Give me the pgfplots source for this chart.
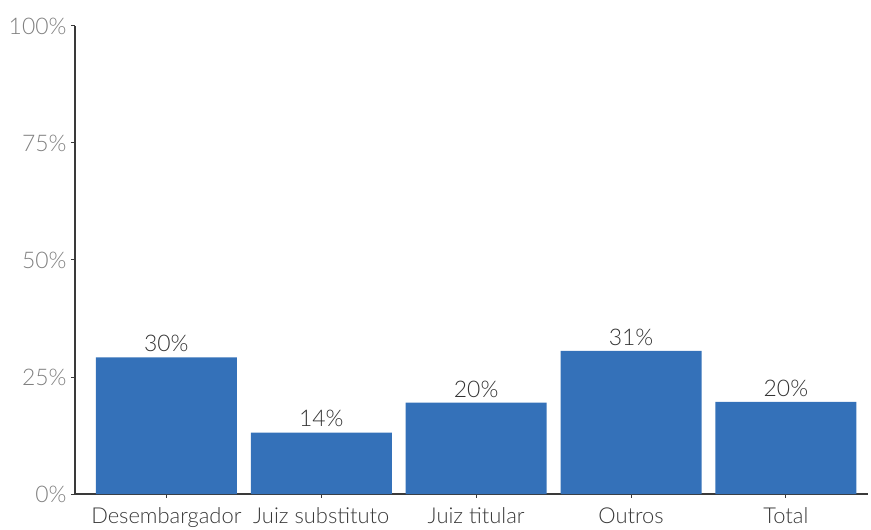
\documentclass[border=0pt]{standalone}
\usepackage{fontspec}
\setmainfont{Lato}[UprightFont=* Light, BoldFont=* Regular]
\usepackage{pgfplots}
\pgfplotsset{compat=1.18}
\definecolor{barblue}{HTML}{3471B9}
\definecolor{axisgray}{HTML}{3A3A3A}
\begin{document}
\begin{tikzpicture}
\begin{axis}[
  at={(0,0)}, anchor=south west,
  scale only axis,
  width=793bp, height=468bp,
  xmin=-0.59, xmax=4.53,
  ymin=0, ymax=100,
  ytick={0,25,50,75,100},
  yticklabels={0\%,25\%,50\%,75\%,100\%},
  xtick={0,1,2,3,4},
  xticklabels={Desembargador,Juiz substituto,Juiz titular,Outros,Total},
  axis x line*=bottom, axis y line*=left,
  axis line style={axisgray, line width=1.3pt},
  tick style={axisgray, line width=1pt},
  tick align=outside,
  major tick length=4bp,
  y tick label style={font=\fontsize{23}{23}\selectfont, text=black!50, xshift=-1bp},
  x tick label style={font=\fontsize{22}{22}\selectfont, text=black!78, yshift=-6bp},
  ybar, bar width=141bp,
  nodes near coords,
  point meta=explicit symbolic,
  every node near coord/.append style={font=\fontsize{23}{23}\selectfont, text=black!80, yshift=2bp},
  clip=false,
]
\addplot[fill=barblue, draw=none] coordinates {
  (0,29.2) [30\%]
  (1,13.1) [14\%]
  (2,19.5) [20\%]
  (3,30.6) [31\%]
  (4,19.7) [20\%]
};
\end{axis}
\pgfresetboundingbox
\path[use as bounding box] (-75bp,-36bp) rectangle (796bp,494bp);
\end{tikzpicture}
\end{document}
